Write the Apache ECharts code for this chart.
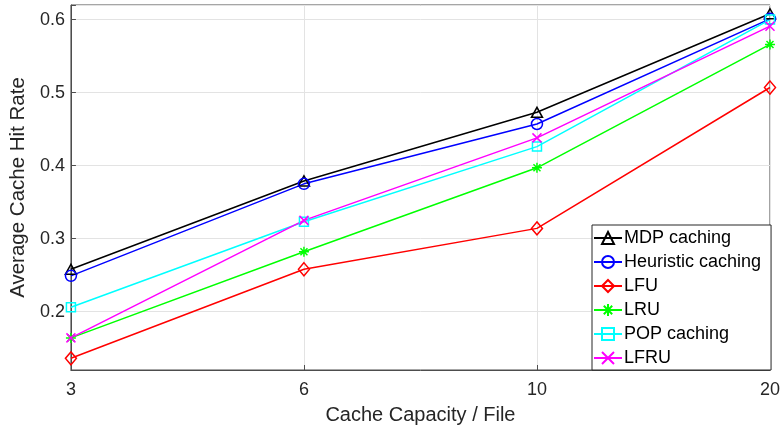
<!DOCTYPE html>
<html>
<head>
<meta charset="utf-8">
<script src="https://cdn.jsdelivr.net/npm/echarts@6/dist/echarts.min.js"></script>
<style>
  html, body { margin: 0; padding: 0; background: #fff; }
  #chart { width: 783px; height: 430px; }
</style>
</head>
<body>
<div id="chart"></div>
<script>
// Cache capacity (files) on the x axis
const capacity = ['3', '6', '10', '20'];

// Average cache hit rate for each caching policy
const mdpCaching       = [0.258, 0.379, 0.473, 0.608];
const heuristicCaching = [0.249, 0.375, 0.457, 0.601];
const lfu              = [0.136, 0.258, 0.314, 0.507];
const lru              = [0.164, 0.282, 0.397, 0.566];
const popCaching       = [0.206, 0.323, 0.426, 0.600];
const lfru             = [0.164, 0.325, 0.438, 0.591];

// Outline-only marker shapes
const MARK = {
  triangle: 'path://M5 0 L10 9 L0 9 Z',
  circle: 'path://M0 5 A5 5 0 1 0 10 5 A5 5 0 1 0 0 5 Z',
  diamond: 'path://M5 0 L10 6 L5 12 L0 6 Z',
  star: 'path://M5 0 L5 10 M0 5 L10 5 M1.5 1.5 L8.5 8.5 M8.5 1.5 L1.5 8.5',
  square: 'path://M0 0 L10 0 L10 10 L0 10 Z',
  cross: 'path://M0 0 L10 10 M10 0 L0 10'
};

function makeSeries(name, data, color, symbol, size) {
  return {
    name: name,
    type: 'line',
    data: data,
    color: color,
    symbol: symbol,
    symbolSize: size,
    showAllSymbol: true,
    lineStyle: { color: color, width: 1.5 },
    itemStyle: { color: 'rgba(0,0,0,0)', borderColor: color, borderWidth: 1.5 },
    emphasis: { disabled: true },
    z: 3
  };
}

const chart = echarts.init(document.getElementById('chart'), null, { renderer: 'canvas' });

chart.setOption({
  animation: false,
  backgroundColor: '#fff',
  grid: {
    left: 67, right: 11, top: 5, bottom: 59,
    show: true, borderColor: '#4d4d4d', borderWidth: 1, backgroundColor: 'transparent'
  },
  xAxis: {
    type: 'category',
    data: capacity,
    boundaryGap: false,
    name: 'Cache Capacity / File',
    nameLocation: 'middle',
    nameGap: 35,
    nameTextStyle: { fontFamily: 'Liberation Sans', fontSize: 20, color: '#262626' },
    axisLine: { lineStyle: { color: '#4d4d4d', width: 1 } },
    axisTick: { show: true, inside: true, length: 5, alignWithLabel: true, lineStyle: { color: '#4d4d4d' } },
    axisLabel: { fontFamily: 'Liberation Sans', fontSize: 18, color: '#262626', margin: 11 },
    splitLine: { show: true, lineStyle: { color: '#e3e3e3', width: 1 } }
  },
  yAxis: {
    type: 'value',
    min: 0.12,
    max: 0.62,
    name: 'Average Cache Hit Rate',
    nameLocation: 'middle',
    nameGap: 33,
    nameTextStyle: { fontFamily: 'Liberation Sans', fontSize: 20.5, color: '#262626' },
    axisLine: { show: true, lineStyle: { color: '#4d4d4d', width: 1 } },
    axisTick: { show: true, inside: true, length: 5, lineStyle: { color: '#4d4d4d' } },
    axisLabel: {
      fontFamily: 'Liberation Sans', fontSize: 18, color: '#262626', margin: 6,
      formatter: function (v) {
        const r = Math.round(v * 10) / 10;
        return Math.abs(v - r) < 1e-6 ? r.toFixed(1) : '';
      }
    },
    splitLine: { show: true, lineStyle: { color: '#e3e3e3', width: 1 } }
  },
  legend: {
    orient: 'vertical',
    left: 592,
    top: 225,
    padding: [3, 10, 2, 1],
    itemGap: 4,
    itemWidth: 28,
    itemHeight: 15,
    backgroundColor: '#fff',
    borderColor: '#262626',
    borderWidth: 1,
    borderRadius: 0,
    textStyle: { fontFamily: 'Liberation Sans', fontSize: 18, color: '#000', lineHeight: 20, padding: [0, 0, 0, -3] },
    data: ['MDP caching', 'Heuristic caching', 'LFU', 'LRU', 'POP caching', 'LFRU']
  },
  series: [
    makeSeries('MDP caching', mdpCaching, '#000000', MARK.triangle, [11, 10]),
    makeSeries('Heuristic caching', heuristicCaching, '#0000ff', MARK.circle, 11),
    makeSeries('LFU', lfu, '#ff0000', MARK.diamond, [11, 13]),
    makeSeries('LRU', lru, '#00ff00', MARK.star, 10),
    makeSeries('POP caching', popCaching, '#00ffff', MARK.square, 9),
    makeSeries('LFRU', lfru, '#ff00ff', MARK.cross, 9)
  ]
});
</script>
</body>
</html>
